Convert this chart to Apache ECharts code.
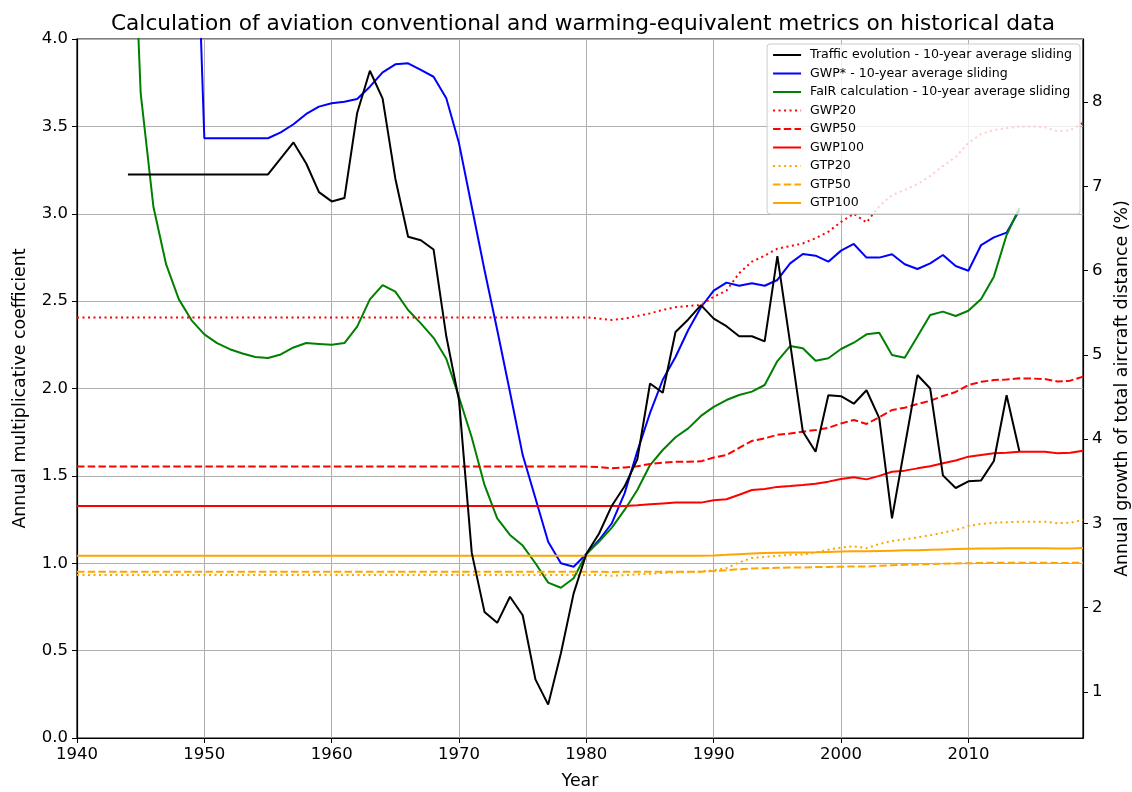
<!DOCTYPE html>
<html>
<head>
<meta charset="UTF-8">
<title>aviation metrics</title>
<script src="https://cdn.jsdelivr.net/npm/echarts@6/dist/echarts.min.js"></script>
<style>
  html, body { margin: 0; padding: 0; background: #fff; }
  #chart { width: 1132px; height: 792px; }
</style>
</head>
<body>
<div id="chart"></div>
<script>
// years on the x axis
var firstYear = 1940;
var lastYear = 2019;

// traffic growth (%), right axis, from 1944 to 2014
var trafficStart = 1944;
var traffic = [7.14, 7.14, 7.14, 7.14, 7.14, 7.14, 7.14, 7.14, 7.14, 7.14, 7.14, 7.14,
  7.33, 7.52, 7.27, 6.93, 6.82, 6.86, 7.87, 8.37, 8.04, 7.09, 6.40, 6.36, 6.25, 5.22,
  4.46, 2.65, 1.95, 1.82, 2.13, 1.91, 1.15, 0.85, 1.46, 2.17,
  2.64, 2.88, 3.21, 3.44, 3.76, 4.66, 4.55, 5.27, 5.42, 5.59,
  5.43, 5.34, 5.22, 5.22, 5.16, 6.17, 5.14, 4.09, 3.85, 4.52,
  4.51, 4.42, 4.58, 4.25, 3.06, 3.91, 4.76, 4.60, 3.57, 3.42,
  3.50, 3.51, 3.74, 4.52, 3.86];

// GWP* from 1949 to 2014
var gwpStarStart = 1949;
var gwpStar = [5.6,
  3.432, 3.432, 3.432, 3.432, 3.432, 3.432, 3.466, 3.512, 3.571, 3.613,
  3.632, 3.641, 3.657, 3.727, 3.809, 3.855, 3.861, 3.823, 3.784, 3.661,
  3.403, 3.040, 2.678, 2.335, 1.98, 1.619, 1.372, 1.123, 1.0, 0.98,
  1.053, 1.133, 1.229, 1.40, 1.64, 1.86, 2.05, 2.18, 2.335, 2.465,
  2.56, 2.606, 2.588, 2.602, 2.588, 2.621, 2.716, 2.770, 2.760, 2.726,
  2.789, 2.827, 2.749, 2.749, 2.768, 2.711, 2.684, 2.716, 2.764, 2.701,
  2.674, 2.821, 2.865, 2.892, 3.02];

// FaIR from 1944 to 2014
var fairStart = 1944;
var fair = [5.5, 3.69, 3.04, 2.71, 2.51, 2.39,
  2.31, 2.26, 2.225, 2.20, 2.18, 2.175, 2.195, 2.235, 2.26, 2.255,
  2.25, 2.26, 2.354, 2.51, 2.592, 2.554, 2.449, 2.373, 2.29, 2.17,
  1.95, 1.72, 1.448, 1.257, 1.162, 1.101, 1.0, 0.889, 0.86, 0.914,
  1.053, 1.124, 1.204, 1.305, 1.419, 1.562, 1.648, 1.721, 1.772, 1.843,
  1.895, 1.934, 1.963, 1.982, 2.020, 2.157, 2.243, 2.230, 2.159, 2.173,
  2.226, 2.262, 2.310, 2.319, 2.192, 2.176, 2.297, 2.421, 2.440, 2.415,
  2.445, 2.512, 2.640, 2.878, 3.033];

// metric coefficients, 1940 to 2019
var gwp20 = [
  2.407, 2.407, 2.407, 2.407, 2.407, 2.407, 2.407, 2.407, 2.407, 2.407,
  2.407, 2.407, 2.407, 2.407, 2.407, 2.407, 2.407, 2.407, 2.407, 2.407,
  2.407, 2.407, 2.407, 2.407, 2.407, 2.407, 2.407, 2.407, 2.407, 2.407,
  2.407, 2.407, 2.407, 2.407, 2.407, 2.407, 2.407, 2.407, 2.407, 2.407,
  2.407, 2.400, 2.392, 2.400, 2.415, 2.430, 2.450, 2.465, 2.472, 2.478,
  2.525, 2.560, 2.660, 2.726, 2.760, 2.800, 2.815, 2.830, 2.860, 2.897,
  2.953, 3.000, 2.950, 3.044, 3.107, 3.136, 3.170, 3.216, 3.273, 3.325,
  3.405, 3.456, 3.479, 3.490, 3.500, 3.500, 3.495, 3.472, 3.478, 3.520];

var gwp50 = [
  1.553, 1.553, 1.553, 1.553, 1.553, 1.553, 1.553, 1.553, 1.553, 1.553,
  1.553, 1.553, 1.553, 1.553, 1.553, 1.553, 1.553, 1.553, 1.553, 1.553,
  1.553, 1.553, 1.553, 1.553, 1.553, 1.553, 1.553, 1.553, 1.553, 1.553,
  1.553, 1.553, 1.553, 1.553, 1.553, 1.553, 1.553, 1.553, 1.553, 1.553,
  1.553, 1.550, 1.543, 1.548, 1.555, 1.568, 1.575, 1.581, 1.581, 1.583,
  1.605, 1.619, 1.660, 1.700, 1.715, 1.735, 1.742, 1.753, 1.762, 1.775,
  1.800, 1.820, 1.797, 1.835, 1.877, 1.890, 1.911, 1.930, 1.957, 1.980,
  2.020, 2.038, 2.048, 2.052, 2.058, 2.057, 2.054, 2.040, 2.045, 2.068];

var gwp100 = [
  1.328, 1.328, 1.328, 1.328, 1.328, 1.328, 1.328, 1.328, 1.328, 1.328,
  1.328, 1.328, 1.328, 1.328, 1.328, 1.328, 1.328, 1.328, 1.328, 1.328,
  1.328, 1.328, 1.328, 1.328, 1.328, 1.328, 1.328, 1.328, 1.328, 1.328,
  1.328, 1.328, 1.328, 1.328, 1.328, 1.328, 1.328, 1.328, 1.328, 1.328,
  1.328, 1.328, 1.328, 1.328, 1.332, 1.337, 1.342, 1.347, 1.347, 1.347,
  1.360, 1.366, 1.392, 1.419, 1.425, 1.437, 1.442, 1.448, 1.455, 1.467,
  1.482, 1.492, 1.480, 1.500, 1.524, 1.530, 1.543, 1.555, 1.572, 1.588,
  1.610, 1.620, 1.629, 1.632, 1.638, 1.638, 1.638, 1.629, 1.632, 1.644];

var gtp20 = [
  0.933, 0.933, 0.933, 0.933, 0.933, 0.933, 0.933, 0.933, 0.933, 0.933,
  0.933, 0.933, 0.933, 0.933, 0.933, 0.933, 0.933, 0.933, 0.933, 0.933,
  0.933, 0.933, 0.933, 0.933, 0.933, 0.933, 0.933, 0.933, 0.933, 0.933,
  0.933, 0.933, 0.933, 0.933, 0.933, 0.933, 0.933, 0.933, 0.933, 0.933,
  0.933, 0.933, 0.928, 0.932, 0.936, 0.940, 0.945, 0.948, 0.950, 0.952,
  0.960, 0.972, 1.005, 1.030, 1.036, 1.043, 1.048, 1.050, 1.062, 1.077,
  1.090, 1.097, 1.086, 1.110, 1.127, 1.137, 1.148, 1.160, 1.175, 1.190,
  1.213, 1.225, 1.232, 1.235, 1.238, 1.238, 1.238, 1.229, 1.232, 1.248];

var gtp50 = [
  0.952, 0.952, 0.952, 0.952, 0.952, 0.952, 0.952, 0.952, 0.952, 0.952,
  0.952, 0.952, 0.952, 0.952, 0.952, 0.952, 0.952, 0.952, 0.952, 0.952,
  0.952, 0.952, 0.952, 0.952, 0.952, 0.952, 0.952, 0.952, 0.952, 0.952,
  0.952, 0.952, 0.952, 0.952, 0.952, 0.952, 0.952, 0.952, 0.952, 0.952,
  0.952, 0.952, 0.950, 0.952, 0.952, 0.952, 0.952, 0.952, 0.952, 0.952,
  0.955, 0.960, 0.966, 0.970, 0.972, 0.974, 0.975, 0.976, 0.978, 0.979,
  0.980, 0.982, 0.981, 0.985, 0.989, 0.991, 0.993, 0.995, 0.997, 0.999,
  1.000, 1.002, 1.003, 1.003, 1.003, 1.003, 1.003, 1.002, 1.002, 1.004];

var gtp100 = [
  1.043, 1.043, 1.043, 1.043, 1.043, 1.043, 1.043, 1.043, 1.043, 1.043,
  1.043, 1.043, 1.043, 1.043, 1.043, 1.043, 1.043, 1.043, 1.043, 1.043,
  1.043, 1.043, 1.043, 1.043, 1.043, 1.043, 1.043, 1.043, 1.043, 1.043,
  1.043, 1.043, 1.043, 1.043, 1.043, 1.043, 1.043, 1.043, 1.043, 1.043,
  1.043, 1.043, 1.043, 1.043, 1.043, 1.043, 1.043, 1.043, 1.043, 1.043,
  1.045, 1.048, 1.052, 1.056, 1.058, 1.060, 1.061, 1.062, 1.063, 1.065,
  1.067, 1.069, 1.068, 1.070, 1.072, 1.074, 1.075, 1.077, 1.079, 1.081,
  1.083, 1.084, 1.085, 1.086, 1.086, 1.086, 1.086, 1.085, 1.085, 1.087];

var rightTicks = [1, 2, 3, 4, 5, 6, 7, 8];

// pair each value with its year
function pairs(start, vals) {
  var out = [];
  for (var i = 0; i < vals.length; i++) {
    out.push([start + i, vals[i]]);
  }
  return out;
}

var DOT = [2, 3.5];
var DASH = [7.5, 3.2];

function line(name, data, color, type, axis) {
  return {
    name: name,
    type: 'line',
    yAxisIndex: axis || 0,
    data: data,
    symbol: 'none',
    showSymbol: false,
    clip: true,
    animation: false,
    lineStyle: { color: color, width: 2, type: type, cap: 'butt' },
    itemStyle: { color: color }
  };
}

var chart = echarts.init(document.getElementById('chart'));
var font = 'DejaVu Sans';
var tickFont = 16.5;
var nameFont = 17.4;

var option = {
  backgroundColor: '#fff',
  animation: false,
  textStyle: { fontFamily: font },
  title: {
    text: 'Calculation of aviation conventional and warming-equivalent metrics on historical data',
    left: 578,
    top: 8,
    textAlign: 'center',
    textStyle: { fontFamily: font, fontSize: 21.7, fontWeight: 'normal', color: '#000' }
  },
  grid: {
    left: 77, right: 49, top: 39, bottom: 54,
    outerBoundsMode: 'none',
    containLabel: false,
    show: true, borderColor: '#000', borderWidth: 1.2, backgroundColor: 'transparent'
  },
  legend: {
    orient: 'vertical',
    right: 52,
    top: 44,
    padding: [4, 8, 4, 5],
    itemWidth: 28,
    itemHeight: 14,
    itemGap: 4.5,
    backgroundColor: 'rgba(255,255,255,0.8)',
    borderColor: '#cccccc',
    borderWidth: 1,
    borderRadius: 3,
    // hide the marker dot, keep only the line sample
    itemStyle: { opacity: 0 },
    textStyle: { fontFamily: font, fontSize: 12.6, lineHeight: 14, color: '#000', padding: [0, 0, 0, 4] },
    data: ['Traffic evolution - 10-year average sliding', 'GWP* - 10-year average sliding',
      'FaIR calculation - 10-year average sliding', 'GWP20', 'GWP50', 'GWP100',
      'GTP20', 'GTP50', 'GTP100']
  },
  xAxis: {
    type: 'value',
    min: firstYear,
    max: lastYear,
    interval: 10,
    name: 'Year',
    nameLocation: 'middle',
    nameGap: 35,
    nameTextStyle: { fontFamily: font, fontSize: nameFont, color: '#000' },
    axisLine: { show: true, lineStyle: { color: '#000', width: 1.2 } },
    axisTick: { show: true, length: 5, lineStyle: { color: '#000' } },
    axisLabel: {
      showMaxLabel: false, fontFamily: font, fontSize: tickFont, color: '#000', margin: 8,
      formatter: function (v) { return String(v); }
    },
    splitLine: { show: true, lineStyle: { color: '#b0b0b0', width: 1 } }
  },
  yAxis: [{
    type: 'value',
    min: 0,
    max: 4,
    interval: 0.5,
    name: 'Annual multiplicative coefficient',
    nameLocation: 'middle',
    nameRotate: 90,
    nameGap: 48,
    nameTextStyle: { fontFamily: font, fontSize: nameFont, color: '#000' },
    axisLine: { show: true, lineStyle: { color: '#000', width: 1.2 } },
    axisTick: { show: true, length: 5, lineStyle: { color: '#000' } },
    axisLabel: {
      fontFamily: font, fontSize: tickFont, color: '#000', margin: 9,
      formatter: function (v) { return v.toFixed(1); }
    },
    splitLine: { show: true, lineStyle: { color: '#b0b0b0', width: 1 } }
  }, {
    type: 'value',
    position: 'right',
    min: 0.454,
    max: 8.747,
    name: 'Annual growth of total aircraft distance (%)',
    nameLocation: 'middle',
    nameRotate: 90,
    nameGap: 31,
    nameTextStyle: { fontFamily: font, fontSize: nameFont, color: '#000' },
    axisLine: { show: true, lineStyle: { color: '#000', width: 1.2 } },
    axisTick: { show: true, length: 5, customValues: rightTicks, lineStyle: { color: '#000' } },
    axisLabel: { fontFamily: font, fontSize: tickFont, color: '#000', margin: 9, customValues: rightTicks },
    splitLine: { show: false }
  }],
  series: [
    line('GWP* - 10-year average sliding', pairs(gwpStarStart, gwpStar), '#0000ff', 'solid'),
    line('FaIR calculation - 10-year average sliding', pairs(fairStart, fair), '#008000', 'solid'),
    line('GWP20', pairs(firstYear, gwp20), '#ff0000', DOT),
    line('GWP50', pairs(firstYear, gwp50), '#ff0000', DASH),
    line('GWP100', pairs(firstYear, gwp100), '#ff0000', 'solid'),
    line('GTP20', pairs(firstYear, gtp20), '#ffa500', DOT),
    line('GTP50', pairs(firstYear, gtp50), '#ffa500', DASH),
    line('GTP100', pairs(firstYear, gtp100), '#ffa500', 'solid'),
    line('Traffic evolution - 10-year average sliding', pairs(trafficStart, traffic), '#000000', 'solid', 1)
  ]
};

chart.setOption(option);
</script>
</body>
</html>
